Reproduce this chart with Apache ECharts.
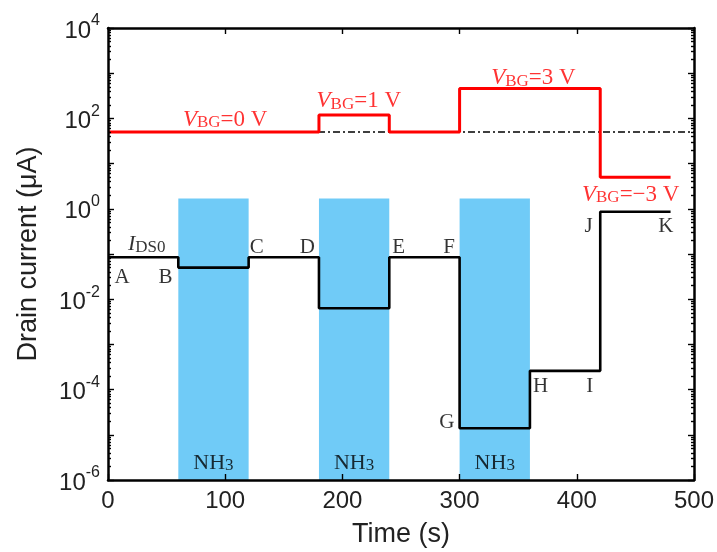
<!DOCTYPE html>
<html><head><meta charset="utf-8">
<script src="https://cdn.jsdelivr.net/npm/echarts@6/dist/echarts.min.js"></script>
<style>html,body{margin:0;padding:0;background:#fff}#c{width:717px;height:552px}</style>
</head><body><div id="c"></div>
<script>
// ---- data ----
const timeTicks = [0, 100, 200, 300, 400, 500];
const topTicks = [100, 200, 300, 400];
const yLabelValues = [1e-6, 1e-4, 1e-2, 1e0, 1e2, 1e4];
const decadeValues = [1e-6, 1e-5, 1e-4, 1e-3, 1e-2, 1e-1, 1e0, 1e1, 1e2, 1e3, 1e4];
const minorMultipliers = [2, 3, 4, 5, 6, 7, 8, 9];
const stepTimes = [0, 60, 120, 180, 240, 300, 360, 420, 480];
const drainCurrent = [0.085, 0.05, 0.085, 0.0063, 0.085, 1.4e-5, 2.6e-4, 0.86, 0.86];
const vbgCurrent = [50, 50, 50, 119, 50, 457, 457, 5, 5];
const baselineCurrent = 50;
const baselineSpan = [0, 500];
const nh3Start = [60, 180, 300];
const nh3End = [120, 240, 360];
const nh3Top = 1.7;
const nh3LabelTime = [90, 210, 330];
const nh3LabelValue = 2.5e-6;
const pointNames = ['A', 'B', 'C', 'D', 'E', 'F', 'G', 'H', 'I', 'J', 'K'];
const pointTimes = [12, 49, 127, 170, 248, 291, 289, 369, 411, 410, 476];
const pointValues = [0.031, 0.031, 0.14, 0.14, 0.14, 0.14, 1.9e-5, 1.15e-4, 1.15e-4, 0.4, 0.4];
const idsLabel = [33, 0.17];
const vbgTexts = ['=0 V', '=1 V', '=3 V', '=\u22123 V'];
const vbgLabelTimes = [100, 214, 363, 446];
const vbgLabelValues = [100, 257, 830, 2.2];

// ---- build ----
const minorValues = [];
decadeValues.slice(0, -1).forEach(d => minorMultipliers.forEach(m => minorValues.push(d * m)));
const RED = '#ff0000';
const INK = '#000';
const SERIF = 'Liberation Serif';
const SANS = 'Liberation Sans';

const stepData = (vals) => stepTimes.map((t, i) => [t, vals[i]]);

const yBase = {
  type: 'log', logBase: 10, min: 1e-6, max: 1e4,
  splitLine: { show: false }, minorTick: { show: false }
};
function yAx(pos, ticks, len, labels, line) {
  return Object.assign({}, yBase, {
    position: pos, z: 10,
    axisLine: { show: line, lineStyle: { color: '#000', width: 2.5 } },
    axisTick: { show: true, inside: true, length: len, customValues: ticks, lineStyle: { color: '#000', width: 1.4 } },
    axisLabel: labels ? {
      show: true, customValues: yLabelValues, margin: 8,
      fontFamily: SANS, color: '#222',
      formatter: v => '{b|10}{s|' + Math.round(Math.log10(v)) + '}',
      rich: {
        b: { fontSize: 24, fontFamily: SANS, color: '#222', lineHeight: 30, verticalAlign: 'bottom' },
        s: { fontSize: 16, fontFamily: SANS, color: '#222', lineHeight: 30, verticalAlign: 'top' }
      }
    } : { show: false },
    name: labels ? 'Drain current (\u03bcA)' : '',
    nameLocation: 'middle', nameGap: 66,
    nameTextStyle: { fontFamily: SANS, fontSize: 27, color: '#222' }
  });
}

const markAreaData = nh3Start.map((s, i) => [{ coord: [s, 1e-6] }, { coord: [nh3End[i], nh3Top] }]);

const letterData = pointNames.map((n, i) => ({ value: [pointTimes[i], pointValues[i]], txt: n }));
const nh3Data = nh3LabelTime.map(t => ({ value: [t, nh3LabelValue], txt: '{n|NH}{t|3}' }));
const idsData = [{ value: idsLabel, txt: '{i|I}{s|DS0}' }];
const vbgData = vbgTexts.map((t, i) => ({ value: [vbgLabelTimes[i], vbgLabelValues[i]], txt: '{i|V}{s|BG}{n|' + t + '}' }));

function textSeries(data, color, rich, fontSize) {
  return {
    type: 'scatter', data: data, symbolSize: 0, z: 6, silent: true,
    label: {
      show: true, position: 'inside', color: color, fontFamily: SERIF, fontSize: fontSize,
      formatter: p => p.data.txt, rich: rich
    }
  };
}

const option = {
  backgroundColor: '#fff',
  animation: false,
  grid: { left: 108, right: 23, top: 28, bottom: 72, outerBoundsMode: 'none' },
  xAxis: [
    {
      type: 'value', min: 0, max: 500, interval: 100, position: 'bottom', z: 10,
      axisLine: { show: true, onZero: false, lineStyle: { color: '#000', width: 2.5 } },
      axisTick: { show: true, inside: true, length: 6, lineStyle: { color: '#000', width: 1.4 } },
      axisLabel: { show: true, customValues: timeTicks, margin: 9, fontFamily: SANS, fontSize: 24, color: '#222' },
      splitLine: { show: false },
      name: 'Time (s)', nameLocation: 'middle', nameGap: 41,
      nameTextStyle: { fontFamily: SANS, fontSize: 27, color: '#222' }
    },
    {
      type: 'value', min: 0, max: 500, position: 'top', z: 10,
      axisLine: { show: true, onZero: false, lineStyle: { color: '#000', width: 2.5 } },
      axisTick: { show: true, inside: true, length: 6, customValues: topTicks, lineStyle: { color: '#000', width: 1.4 } },
      axisLabel: { show: false }, splitLine: { show: false }
    }
  ],
  yAxis: [
    yAx('left', decadeValues, 6, true, true),
    yAx('left', minorValues, 3, false, false),
    yAx('right', decadeValues, 6, false, true),
    yAx('right', minorValues, 3, false, false)
  ],
  series: [
    {
      type: 'line', data: [], z: 1, silent: true,
      markArea: { silent: true, itemStyle: { color: '#70cbf7', opacity: 1 }, data: markAreaData }
    },
    {
      type: 'line', z: 2, symbol: 'none', silent: true,
      data: baselineSpan.map(t => [t, baselineCurrent]),
      lineStyle: { color: '#000', width: 1.5, type: [7, 3, 2, 3] }
    },
    {
      type: 'line', z: 3, symbol: 'none', step: 'end', silent: true,
      data: stepData(vbgCurrent),
      lineStyle: { color: RED, width: 3 }
    },
    {
      type: 'line', z: 4, symbol: 'none', step: 'end', silent: true,
      data: stepData(drainCurrent),
      lineStyle: { color: '#000', width: 2.6 }
    },
    textSeries(letterData, INK, {}, 21),
    textSeries(nh3Data, INK, {
      n: { fontFamily: SERIF, fontSize: 22, color: INK, verticalAlign: 'bottom', lineHeight: 24 },
      t: { fontFamily: SERIF, fontSize: 17, color: INK, verticalAlign: 'bottom', lineHeight: 21 }
    }, 22),
    textSeries(idsData, INK, {
      i: { fontFamily: SERIF, fontStyle: 'italic', fontSize: 22, color: INK, verticalAlign: 'bottom', lineHeight: 24 },
      s: { fontFamily: SERIF, fontSize: 17, color: INK, verticalAlign: 'bottom', lineHeight: 21 }
    }, 22),
    textSeries(vbgData, RED, {
      i: { fontFamily: SERIF, fontStyle: 'italic', fontSize: 23, color: RED, verticalAlign: 'bottom', lineHeight: 26 },
      s: { fontFamily: SERIF, fontSize: 17, color: RED, verticalAlign: 'bottom', lineHeight: 22 },
      n: { fontFamily: SERIF, fontSize: 23, color: RED, verticalAlign: 'bottom', lineHeight: 26 }
    }, 23)
  ]
};
const chart = echarts.init(document.getElementById('c'), null, { renderer: 'canvas' });
chart.setOption(option);
</script></body></html>
